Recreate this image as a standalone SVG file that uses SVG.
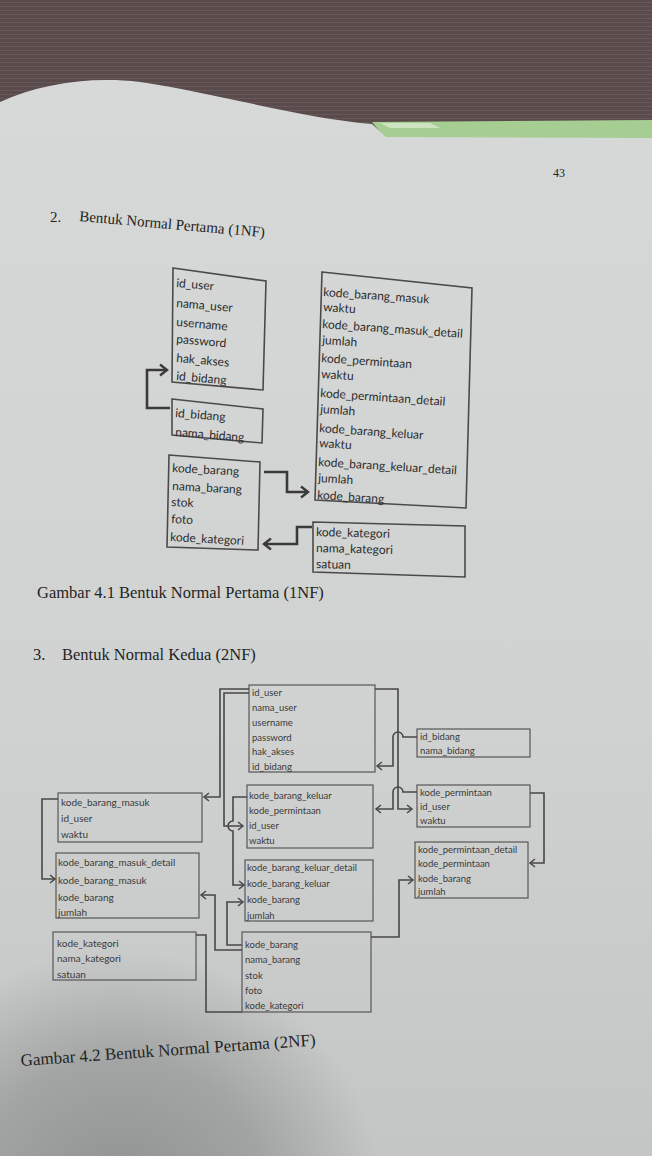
<svg xmlns="http://www.w3.org/2000/svg" width="652" height="1156" viewBox="0 0 652 1156">
<defs>
<style>
.t1{font-family:Lato,"Open Sans","Liberation Sans",sans-serif;font-size:12px;fill:#2c2c2c}
.t2{font-family:Lato,"Open Sans","Liberation Sans",sans-serif;font-size:10px;fill:#3a3a3a}
.t3{font-family:Lato,"Open Sans","Liberation Sans",sans-serif;font-size:9.5px;fill:#3a3a3a}
.box1{fill:none;stroke:#4a4a4a;stroke-width:1.6}
.box2{fill:none;stroke:#565656;stroke-width:1.2}
.c1{fill:none;stroke:#3a3a3a;stroke-width:2.6}
.c2{fill:none;stroke:#474747;stroke-width:1.6}
.serif{font-family:"Liberation Serif","Times New Roman",serif;fill:#242424}
</style>
<pattern id="cloth" width="6" height="4" patternUnits="userSpaceOnUse">
<rect width="6" height="4" fill="#594a4b"/>
<rect y="2" width="6" height="1" fill="#675858"/>
</pattern>
<linearGradient id="pageg" x1="0" y1="0" x2="0" y2="1">
<stop offset="0" stop-color="#d7d9d8"/>
<stop offset="0.6" stop-color="#d0d2d1"/>
<stop offset="1" stop-color="#c4c6c5"/>
</linearGradient>
<radialGradient id="shade" cx="0.5" cy="0.5" r="0.5">
<stop offset="0" stop-color="#6e7170" stop-opacity="0.6"/>
<stop offset="0.55" stop-color="#6e7170" stop-opacity="0.4"/>
<stop offset="1" stop-color="#6e7170" stop-opacity="0"/>
</radialGradient>
<marker id="a1" markerUnits="userSpaceOnUse" markerWidth="16" markerHeight="16" refX="10" refY="7" orient="auto" overflow="visible">
<path d="M3,1.5 L10,7 L3,12.5" fill="none" stroke="#3a3a3a" stroke-width="2.4"/>
</marker>
<marker id="a2" markerUnits="userSpaceOnUse" markerWidth="12" markerHeight="12" refX="7" refY="5" orient="auto" overflow="visible">
<path d="M2,1 L7,5 L2,9" fill="none" stroke="#474747" stroke-width="1.5"/>
</marker>
</defs>

<!-- background -->
<rect width="652" height="1156" fill="url(#cloth)"/>
<polygon points="372,122 652,120 652,138 385,138" fill="#a6cd92"/>
<polygon points="380,123 430,123 440,128 390,128" fill="#dfeed6" opacity="0.7"/>
<path d="M0,102 C40,84 90,76 140,82 C220,94 300,118 372,124 L386,137 L652,138 L652,1156 L0,1156 Z" fill="url(#pageg)"/>
<ellipse cx="120" cy="1190" rx="260" ry="240" fill="url(#shade)"/>

<!-- page texts -->
<text class="serif" x="553" y="177" font-size="12">43</text>
<text class="serif" x="50" y="222" font-size="15">2.</text>
<text class="serif" x="79" y="221" font-size="15" transform="rotate(5 79 221)">Bentuk Normal Pertama (1NF)</text>
<text class="serif" x="37" y="598" font-size="16.5">Gambar 4.1 Bentuk Normal Pertama (1NF)</text>
<text class="serif" x="33" y="660" font-size="16.5">3.</text>
<text class="serif" x="62" y="660" font-size="16.5">Bentuk Normal Kedua (2NF)</text>
<text class="serif" x="21" y="1066" font-size="17" transform="rotate(-4 21 1066)">Gambar 4.2 Bentuk Normal Pertama (2NF)</text>

<!-- 1NF -->
<g id="n1_user">
<polygon class="box1" points="173,268 266,281 263,390 172,382"/>
<text class="t1" x="176" y="287" transform="rotate(5 176 287)">id_user</text>
<text class="t1" x="176" y="307" transform="rotate(5 176 307)">nama_user</text>
<text class="t1" x="176" y="326" transform="rotate(5 176 326)">username</text>
<text class="t1" x="176" y="343" transform="rotate(5 176 343)">password</text>
<text class="t1" x="176" y="362" transform="rotate(5 176 362)">hak_akses</text>
<text class="t1" x="176" y="380" transform="rotate(5 176 380)">id_bidang</text>
</g>
<g id="n1_big">
<polygon class="box1" points="322,272 472,288 466,508 315,500"/>
<text class="t1" x="323" y="296" transform="rotate(4 323 296)">kode_barang_masuk</text>
<text class="t1" x="323" y="311" transform="rotate(4 323 311)">waktu</text>
<text class="t1" x="322" y="328" transform="rotate(4 322 328)">kode_barang_masuk_detail</text>
<text class="t1" x="322" y="344" transform="rotate(4 322 344)">jumlah</text>
<text class="t1" x="321" y="362" transform="rotate(4 321 362)">kode_permintaan</text>
<text class="t1" x="321" y="378" transform="rotate(4 321 378)">waktu</text>
<text class="t1" x="320" y="397" transform="rotate(4 320 397)">kode_permintaan_detail</text>
<text class="t1" x="320" y="413" transform="rotate(4 320 413)">jumlah</text>
<text class="t1" x="319" y="432" transform="rotate(4 319 432)">kode_barang_keluar</text>
<text class="t1" x="319" y="447" transform="rotate(4 319 447)">waktu</text>
<text class="t1" x="318" y="466" transform="rotate(3.5 318 466)">kode_barang_keluar_detail</text>
<text class="t1" x="318" y="482" transform="rotate(3.5 318 482)">jumlah</text>
<text class="t1" x="317" y="499" transform="rotate(3.5 317 499)">kode_barang</text>
</g>
<g id="n1_bidang">
<polygon class="box1" points="172,399 263,409 262,443 172,435"/>
<text class="t1" x="175" y="417" transform="rotate(4.5 175 417)">id_bidang</text>
<text class="t1" x="175" y="436" transform="rotate(4.5 175 436)">nama_bidang</text>
</g>
<g id="n1_barang">
<polygon class="box1" points="169,455 260,462 258,550 167,547"/>
<text class="t1" x="172" y="472" transform="rotate(3 172 472)">kode_barang</text>
<text class="t1" x="172" y="490" transform="rotate(3 172 490)">nama_barang</text>
<text class="t1" x="171" y="506" transform="rotate(3 171 506)">stok</text>
<text class="t1" x="171" y="523" transform="rotate(3 171 523)">foto</text>
<text class="t1" x="170" y="541" transform="rotate(3 170 541)">kode_kategori</text>
</g>
<g id="n1_kategori">
<polygon class="box1" points="313,522 465,526 465,577 313,572"/>
<text class="t1" x="316" y="536" transform="rotate(1.5 316 536)">kode_kategori</text>
<text class="t1" x="316" y="552" transform="rotate(1.5 316 552)">nama_kategori</text>
<text class="t1" x="316" y="568" transform="rotate(1.5 316 568)">satuan</text>
</g>

<!-- 2NF -->
<g id="n2_user">
<rect class="box2" x="249" y="685" width="126" height="87"/>
<text class="t3" x="252" y="696">id_user</text>
<text class="t3" x="252" y="711">nama_user</text>
<text class="t3" x="252" y="726">username</text>
<text class="t3" x="252" y="741">password</text>
<text class="t3" x="252" y="755">hak_akses</text>
<text class="t3" x="252" y="770">id_bidang</text>
</g>
<g id="n2_bidang">
<rect class="box2" x="417" y="729" width="113" height="28"/>
<text class="t3" x="420" y="740">id_bidang</text>
<text class="t3" x="420" y="754">nama_bidang</text>
</g>
<g id="n2_masuk">
<rect class="box2" x="58" y="793" width="144" height="49"/>
<text class="t2" x="61" y="806">kode_barang_masuk</text>
<text class="t2" x="61" y="822">id_user</text>
<text class="t2" x="61" y="838">waktu</text>
</g>
<g id="n2_keluar">
<rect class="box2" x="247" y="785" width="126" height="63"/>
<text class="t3" x="249" y="799">kode_barang_keluar</text>
<text class="t3" x="249" y="814">kode_permintaan</text>
<text class="t3" x="249" y="829">id_user</text>
<text class="t3" x="249" y="844">waktu</text>
</g>
<g id="n2_permintaan">
<rect class="box2" x="417" y="785" width="113" height="42"/>
<text class="t3" x="420" y="796">kode_permintaan</text>
<text class="t3" x="420" y="810">id_user</text>
<text class="t3" x="420" y="824">waktu</text>
</g>
<g id="n2_permintaan_detail">
<rect class="box2" x="415" y="842" width="113" height="56"/>
<text class="t3" x="418" y="853">kode_permintaan_detail</text>
<text class="t3" x="418" y="867">kode_permintaan</text>
<text class="t3" x="418" y="882">kode_barang</text>
<text class="t3" x="418" y="895">jumlah</text>
</g>
<g id="n2_masuk_detail">
<rect class="box2" x="56" y="853" width="143" height="65"/>
<text class="t2" x="58" y="866">kode_barang_masuk_detail</text>
<text class="t2" x="58" y="884">kode_barang_masuk</text>
<text class="t2" x="58" y="901">kode_barang</text>
<text class="t2" x="58" y="916">jumlah</text>
</g>
<g id="n2_keluar_detail">
<rect class="box2" x="245" y="860" width="128" height="61"/>
<text class="t3" x="247" y="871">kode_barang_keluar_detail</text>
<text class="t3" x="247" y="887">kode_barang_keluar</text>
<text class="t3" x="247" y="903">kode_barang</text>
<text class="t3" x="247" y="919">jumlah</text>
</g>
<g id="n2_kategori">
<rect class="box2" x="53" y="932" width="143" height="48"/>
<text class="t2" x="57" y="947">kode_kategori</text>
<text class="t2" x="57" y="962">nama_kategori</text>
<text class="t2" x="57" y="978">satuan</text>
</g>
<g id="n2_barang">
<rect class="box2" x="242" y="932" width="129" height="80"/>
<text class="t3" x="245" y="948">kode_barang</text>
<text class="t3" x="245" y="963">nama_barang</text>
<text class="t3" x="245" y="979">stok</text>
<text class="t3" x="245" y="994">foto</text>
<text class="t3" x="245" y="1009">kode_kategori</text>
</g>

<!-- connectors -->
<g id="connectors">
<path class="c1" d="M170,408 H147 V370 H167" marker-end="url(#a1)"/>
<path class="c1" d="M264,472 H287 V492 H308" marker-end="url(#a1)"/>
<path class="c1" d="M312,527 H297 V544 H264" marker-end="url(#a1)"/>

<path class="c2" d="M249,689 H220 V797 H204" marker-end="url(#a2)"/>
<path class="c2" d="M249,693 H224 V826 H243" marker-end="url(#a2)"/>
<path class="c2" d="M247,797 H233 V821 A5,5 0 0 0 233,831 V885 H244" marker-end="url(#a2)"/>
<path class="c2" d="M375,689 H398 V809 H412" marker-end="url(#a2)"/>
<path class="c2" d="M417,737 H403 A5,5 0 0 0 393,737 V766 H377" marker-end="url(#a2)"/>
<path class="c2" d="M417,792 H403 A5,5 0 0 0 393,792 V809 H376" marker-end="url(#a2)"/>
<path class="c2" d="M530,793 H544 V863 H530" marker-end="url(#a2)"/>
<path class="c2" d="M371,937 H399 V880 H413" marker-end="url(#a2)"/>
<path class="c2" d="M242,945 H227 V902 H243" marker-end="url(#a2)"/>
<path class="c2" d="M242,950 H215 V895 H201" marker-end="url(#a2)"/>
<path class="c2" d="M196,935 H206 V1012 H242"/>
<path class="c2" d="M58,799 H42 V879 H55" marker-end="url(#a2)"/>
</g>
</svg>
